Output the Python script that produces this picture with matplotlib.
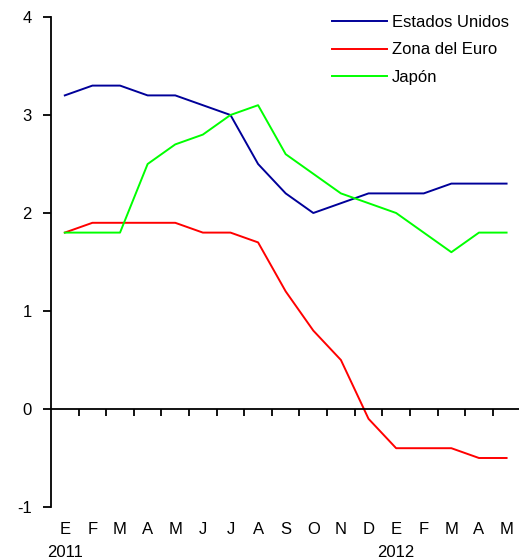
import matplotlib
matplotlib.use('Agg')
import matplotlib.pyplot as plt
import matplotlib.transforms as mtransforms

plt.rcParams['font.family'] = ['Liberation Sans', 'DejaVu Sans']
plt.rcParams['axes.unicode_minus'] = False

# monthly data, Jan 2011 - May 2012
months = ['E', 'F', 'M', 'A', 'M', 'J', 'J', 'A', 'S', 'O', 'N', 'D',
          'E', 'F', 'M', 'A', 'M']
years = ['2011', '2012']
year_pos = [0, 12]

eeuu = [3.2, 3.3, 3.3, 3.2, 3.2, 3.1, 3.0, 2.5, 2.2, 2.0, 2.1, 2.2,
        2.2, 2.2, 2.3, 2.3, 2.3]
euro = [1.8, 1.9, 1.9, 1.9, 1.9, 1.8, 1.8, 1.7, 1.2, 0.8, 0.5, -0.1,
        -0.4, -0.4, -0.4, -0.5, -0.5]
japon = [1.8, 1.8, 1.8, 2.5, 2.7, 2.8, 3.0, 3.1, 2.6, 2.4, 2.2, 2.1,
         2.0, 1.8, 1.6, 1.8, 1.8]

fig = plt.figure(figsize=(5.19, 5.60), dpi=100)
ax = fig.add_axes([51 / 519, 53 / 560, 468 / 519, 490 / 560])

x = list(range(len(months)))
ax.plot(x, eeuu, color='#000099', lw=1.4, label='Estados Unidos')
ax.plot(x, euro, color='#ff0000', lw=1.4, label='Zona del Euro')
ax.plot(x, japon, color='#00ff00', lw=1.4, label='Japón')

ax.set_xlim(-0.5, 16.45)
ax.set_ylim(-1, 4)
ax.set_yticks([-1, 0, 1, 2, 3, 4])

for s in ['top', 'right']:
    ax.spines[s].set_visible(False)
ax.spines['bottom'].set_position(('data', 0))
ax.spines['left'].set_linewidth(1.3)
ax.spines['bottom'].set_linewidth(1.3)

ax.set_xticks([i + 0.5 for i in range(len(months) - 1)])
ax.tick_params(axis='x', direction='out', length=5, width=1.3,
               labelbottom=False)
ax.tick_params(axis='y', direction='out', length=6, width=1.3,
               labelsize=12, pad=8)

trans = mtransforms.blended_transform_factory(ax.transData, ax.transAxes)
for i, m in enumerate(months):
    ax.text(i, -0.045, m, transform=trans, ha='center', va='center',
            fontsize=12)
for p, yr in zip(year_pos, years):
    ax.text(p, -0.092, yr, transform=trans, ha='center', va='center',
            fontsize=12)

ax.legend(loc='upper right', bbox_to_anchor=(1.01, 1.035), frameon=False,
          fontsize=12, handlelength=3.3, handletextpad=0.3,
          labelspacing=0.75)

fig.savefig('out.png', dpi=100)
